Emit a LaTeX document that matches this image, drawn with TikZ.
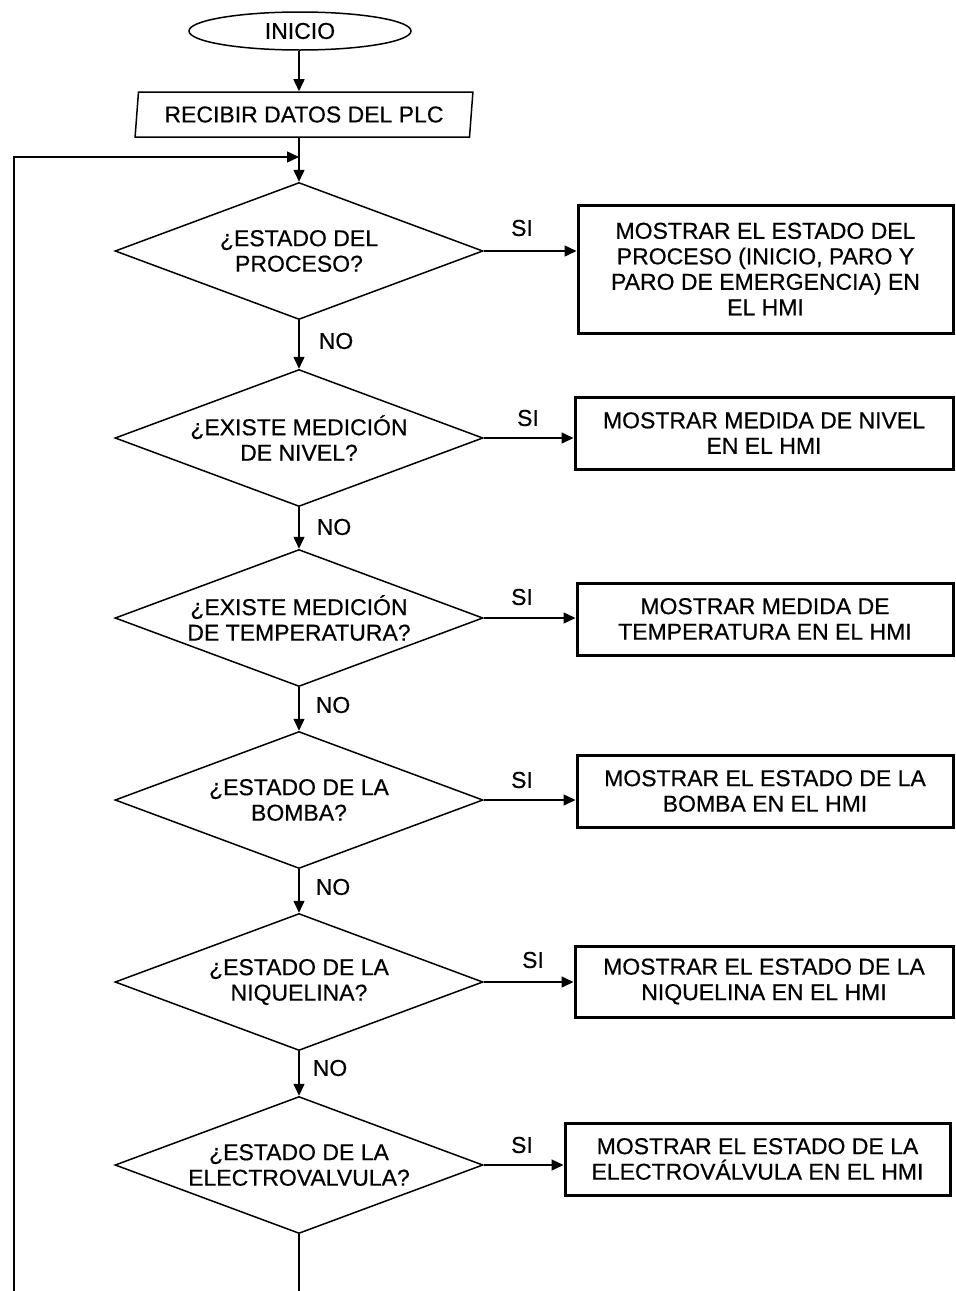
\documentclass[tikz,border=0pt]{standalone}
\usepackage{fontspec}
\setmainfont{Liberation Sans}[UprightFeatures={FakeBold=0.5}]
\usetikzlibrary{shapes.geometric,arrows.meta}
\begin{document}
\begin{tikzpicture}[x=1pt,y=-1pt,
  font=\fontsize{23}{25.5}\selectfont,
  thin line/.style={line width=1.5pt},
  arr/.style={thin line,-{Triangle[length=12pt,width=11pt]}},
  terminal/.style={ellipse,draw,thin line,minimum width=222pt,minimum height=38pt,inner sep=0pt},
  inputbox/.style={trapezium,trapezium left angle=80,trapezium right angle=100,trapezium stretches=true,
    draw,thin line,minimum width=338pt,minimum height=45pt,inner sep=0pt},
  decision/.style={diamond,draw,thin line,shape aspect=2.7,minimum width=368pt,minimum height=137pt,
    inner sep=0pt,align=center},
  action/.style={rectangle,draw,line width=3pt,align=center,inner sep=0pt},
  lbl/.style={inner sep=0pt}]
\useasboundingbox (0,0) rectangle (956,1291);

% start and input
\node[terminal] (inicio) at (300,31) {INICIO};
\node[inputbox] (datos) at (304,114.5) {RECIBIR DATOS DEL PLC};

% decisions
\node[decision] (d1) at (299,251) {¿ESTADO DEL\\PROCESO?};
\node[decision] (d2) at (299,438) {¿EXISTE MEDICIÓN\\DE NIVEL?};
\node[decision] (d3) at (299,618) {¿EXISTE MEDICIÓN\\DE TEMPERATURA?};
\node[decision] (d4) at (299,800) {¿ESTADO DE LA\\BOMBA?};
\node[decision] (d5) at (299,982) {¿ESTADO DE LA\\NIQUELINA?};
\node[decision] (d6) at (299,1165) {¿ESTADO DE LA\\ELECTROVALVULA?};

% actions
\node[action,minimum width=375pt,minimum height=128pt] (b1) at (765.5,269)
  {MOSTRAR EL ESTADO DEL\\PROCESO (INICIO, PARO Y\\PARO DE EMERGENCIA) EN\\EL HMI};
\node[action,minimum width=378pt,minimum height=72pt] (b2) at (764,433)
  {MOSTRAR MEDIDA DE NIVEL\\EN EL HMI};
\node[action,minimum width=376pt,minimum height=72pt] (b3) at (765,619)
  {MOSTRAR MEDIDA DE\\TEMPERATURA EN EL HMI};
\node[action,minimum width=376pt,minimum height=72pt] (b4) at (765,791)
  {MOSTRAR EL ESTADO DE LA\\BOMBA EN EL HMI};
\node[action,minimum width=378pt,minimum height=71pt] (b5) at (764,981.5)
  {MOSTRAR EL ESTADO DE LA\\NIQUELINA EN EL HMI};
\node[action,minimum width=385pt,minimum height=72pt] (b6) at (757.5,1159)
  {MOSTRAR EL ESTADO DE LA\\ELECTROVÁLVULA EN EL HMI};

% loop coordinates
\coordinate (jn) at (299,157);
\coordinate (lb) at (14,1291);
\coordinate (end) at (299,1291);

% main flow
\draw[arr] (inicio.south -| jn) -- (datos.north -| jn);
\draw[thin line] (datos.south -| jn) -- (jn);
\draw[arr] (jn) -- (d1.north);
\draw[arr] (lb) |- (jn);
\draw[arr] (d1.south) -- (d2.north);
\draw[arr] (d2.south) -- (d3.north);
\draw[arr] (d3.south) -- (d4.north);
\draw[arr] (d4.south) -- (d5.north);
\draw[arr] (d5.south) -- (d6.north);
\draw[thin line] (d6.south) -- (end);

% yes branches
\draw[arr] (d1.east) -- (d1.east -| b1.west);
\draw[arr] (d2.east) -- (d2.east -| b2.west);
\draw[arr] (d3.east) -- (d3.east -| b3.west);
\draw[arr] (d4.east) -- (d4.east -| b4.west);
\draw[arr] (d5.east) -- (d5.east -| b5.west);
\draw[arr] (d6.east) -- (d6.east -| b6.west);

% branch labels
\node[lbl] (si1) at (522,228) {SI};
\node[lbl] (si2) at (528,418) {SI};
\node[lbl] (si3) at (522,597) {SI};
\node[lbl] (si4) at (522,780) {SI};
\node[lbl] (si5) at (533,960) {SI};
\node[lbl] (si6) at (522,1145) {SI};
\node[lbl] (no1) at (336,341) {NO};
\node[lbl] (no2) at (334,527) {NO};
\node[lbl] (no3) at (333,705) {NO};
\node[lbl] (no4) at (333,887) {NO};
\node[lbl] (no5) at (330,1068) {NO};
\end{tikzpicture}
\end{document}
